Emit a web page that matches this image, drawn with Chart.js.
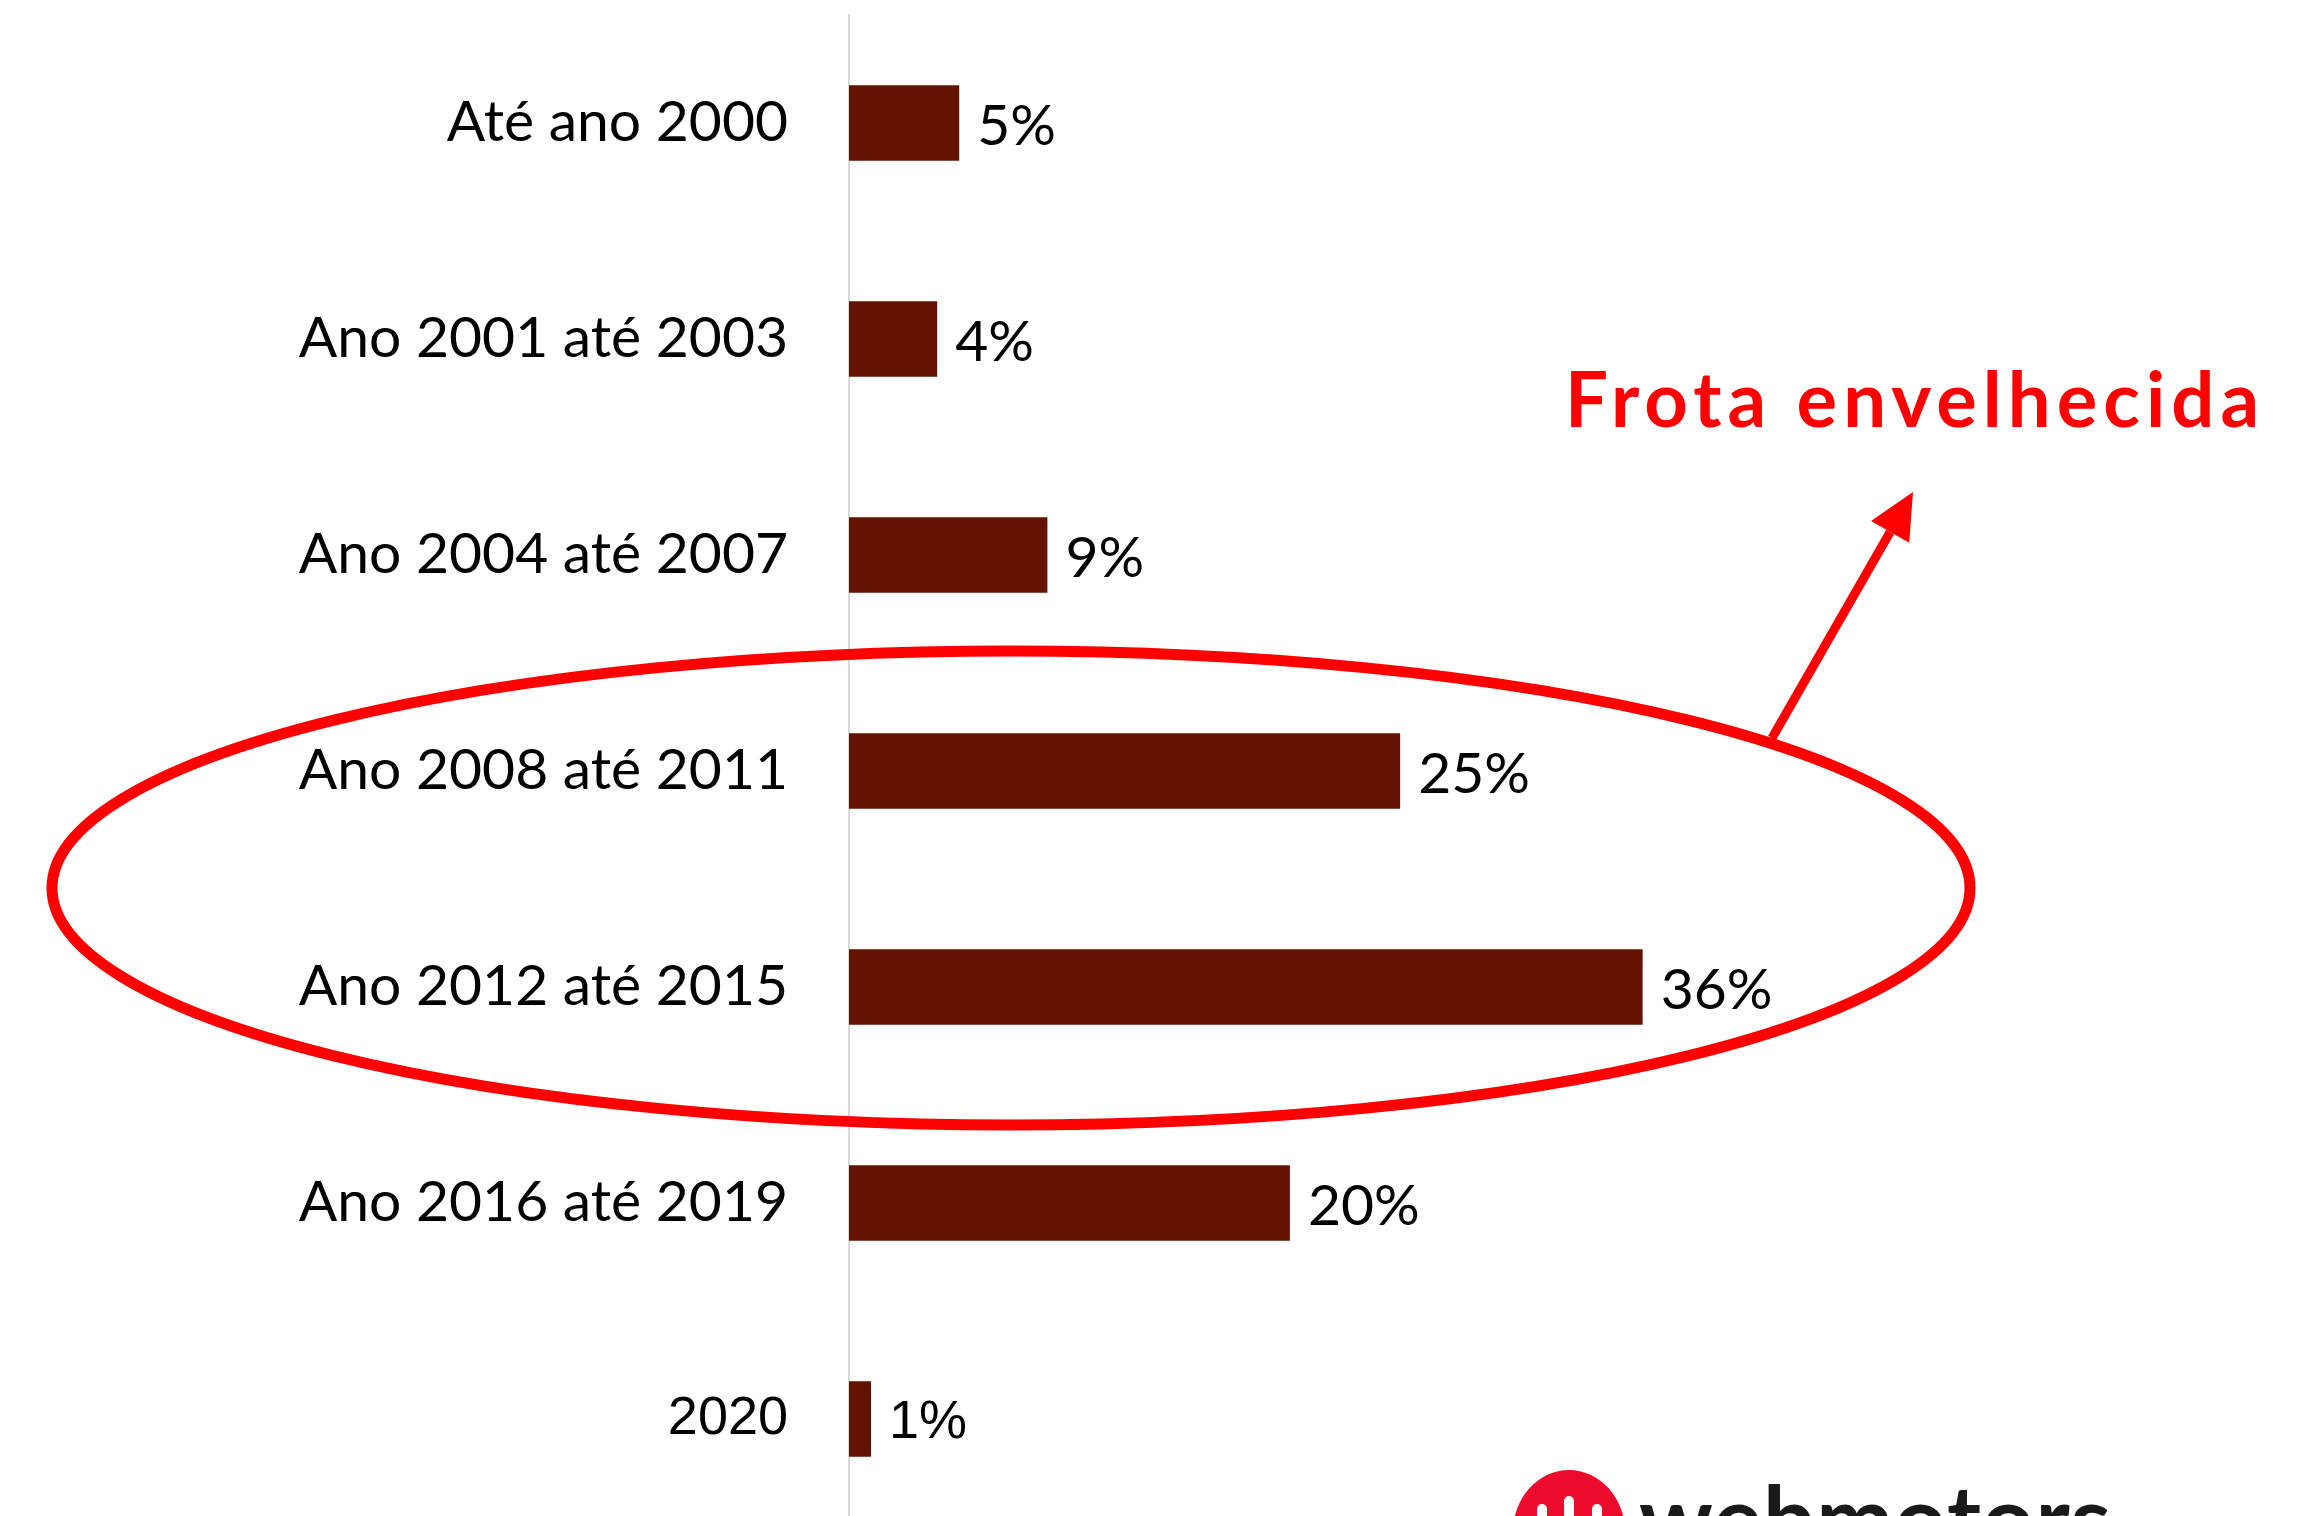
<!DOCTYPE html>
<html>
<head>
<meta charset="utf-8">
<script src="https://cdn.jsdelivr.net/npm/chart.js@4.4.1/dist/chart.umd.min.js"></script>
<style>
  html, body { margin: 0; padding: 0; background: #fff; overflow: hidden; }
  canvas { display: block; }
</style>
</head>
<body>
<canvas id="frota" width="2315" height="1516"></canvas>
<script>
// dados do grafico
const faixas = ['Até ano 2000', 'Ano 2001 até 2003', 'Ano 2004 até 2007', 'Ano 2008 até 2011', 'Ano 2012 até 2015', 'Ano 2016 até 2019', '2020'];
const percentuais = [5, 4, 9, 25, 36, 20, 1];
const destaque = 'Frota envelhecida';
const marca = 'webmotors';

const corBarra = '#631300';
const fonteCalibri = 'Lato';
const fonteArial = 'Liberation Sans';
// a ultima linha (2020) usa outra fonte no original
const fonteDaLinha = (i) => (i === faixas.length - 1 ? { family: fonteArial, size: 54 } : { family: fonteCalibri, size: 57 });

// o eixo do original continua abaixo da borda da imagem
const eixoCortado = {
  id: 'eixoCortado',
  afterLayout(chart) {
    const y = chart.scales.y;
    y.bottom = 1527;
    y.height = y.bottom - y.top;
    y.configure();
  }
};

// rotulos de valor ao lado das barras
const rotulosValor = {
  id: 'rotulosValor',
  afterDatasetsDraw(chart) {
    const ctx = chart.ctx;
    const meta = chart.getDatasetMeta(0);
    ctx.save();
    ctx.fillStyle = '#000';
    ctx.textAlign = 'left';
    ctx.textBaseline = 'middle';
    meta.data.forEach((bar, i) => {
      const f = fonteDaLinha(i);
      ctx.font = f.size + 'px "' + f.family + '"';
      ctx.fillText(percentuais[i] + '%', bar.x + 18, bar.y + 4);
    });
    ctx.restore();
  }
};

// elipse, seta, texto e logo
const anotacoes = {
  id: 'anotacoes',
  afterDraw(chart) {
    const ctx = chart.ctx;
    ctx.save();

    // elipse vermelha
    ctx.strokeStyle = '#ff0000';
    ctx.lineWidth = 11;
    ctx.beginPath();
    ctx.ellipse(1011, 888, 959, 237, 0, 0, Math.PI * 2);
    ctx.stroke();

    // seta
    const x0 = 1772, y0 = 738, x1 = 1913, y1 = 492;
    const ang = Math.atan2(y1 - y0, x1 - x0);
    const comp = 46, larg = 22;
    const bx = x1 - comp * Math.cos(ang), by = y1 - comp * Math.sin(ang);
    ctx.lineWidth = 9;
    ctx.beginPath();
    ctx.moveTo(x0, y0);
    ctx.lineTo(bx, by);
    ctx.stroke();
    ctx.fillStyle = '#ff0000';
    ctx.beginPath();
    ctx.moveTo(x1, y1);
    ctx.lineTo(bx + larg * Math.sin(ang), by - larg * Math.cos(ang));
    ctx.lineTo(bx - larg * Math.sin(ang), by + larg * Math.cos(ang));
    ctx.closePath();
    ctx.fill();

    // texto "Frota envelhecida"
    ctx.font = 'bold 76px "' + fonteCalibri + '"';
    ctx.textAlign = 'left';
    ctx.textBaseline = 'alphabetic';
    const w = ctx.measureText(destaque).width;
    ctx.letterSpacing = ((694 - w) / (destaque.length - 1)) + 'px';
    ctx.fillText(destaque, 1565, 427);
    ctx.letterSpacing = '0px';

    // logo webmotors (cortado na borda inferior)
    ctx.fillStyle = '#ec0b2d';
    ctx.beginPath();
    ctx.ellipse(1569, 1532, 56, 62, 0, 0, Math.PI * 2);
    ctx.fill();
    ctx.fillStyle = '#fff';
    [[1542, 1504], [1569, 1496], [1597, 1504]].forEach(([sx, sy]) => {
      ctx.beginPath();
      ctx.arc(sx, sy + 5, 5, Math.PI, 0);
      ctx.lineTo(sx + 5, 1520);
      ctx.lineTo(sx - 5, 1520);
      ctx.closePath();
      ctx.fill();
    });
    ctx.fillStyle = '#1a1a1a';
    ctx.font = 'bold 92px "' + fonteCalibri + '"';
    const wm = ctx.measureText(marca).width;
    ctx.letterSpacing = ((472 - wm) / (marca.length - 1)) + 'px';
    ctx.fillText(marca, 1639, 1552);
    ctx.letterSpacing = '0px';

    ctx.restore();
  }
};

const ctx = document.getElementById('frota').getContext('2d');
new Chart(ctx, {
  type: 'bar',
  data: {
    labels: faixas,
    datasets: [{
      data: percentuais,
      backgroundColor: corBarra,
      borderWidth: 0,
      categoryPercentage: 1,
      barPercentage: 0.35,
      clip: false
    }]
  },
  options: {
    indexAxis: 'y',
    responsive: false,
    animation: false,
    layout: { padding: { top: 15, bottom: 0, left: 0, right: 11 } },
    plugins: {
      legend: { display: false },
      tooltip: { enabled: false }
    },
    scales: {
      x: {
        display: false,
        min: 0,
        max: 66,
        grid: { display: false }
      },
      y: {
        afterFit: (s) => {
          s.width = 849;
          // sem folga extra para os rotulos da primeira/ultima linha
          s.paddingTop = 0;
          s.paddingBottom = 0;
        },
        grid: { display: false, drawTicks: false },
        border: { display: true, color: '#d9d9d9', width: 2 },
        ticks: {
          color: '#000',
          padding: 61,
          font: (c) => fonteDaLinha(c.index)
        }
      }
    }
  },
  plugins: [eixoCortado, rotulosValor, anotacoes]
});
</script>
</body>
</html>
